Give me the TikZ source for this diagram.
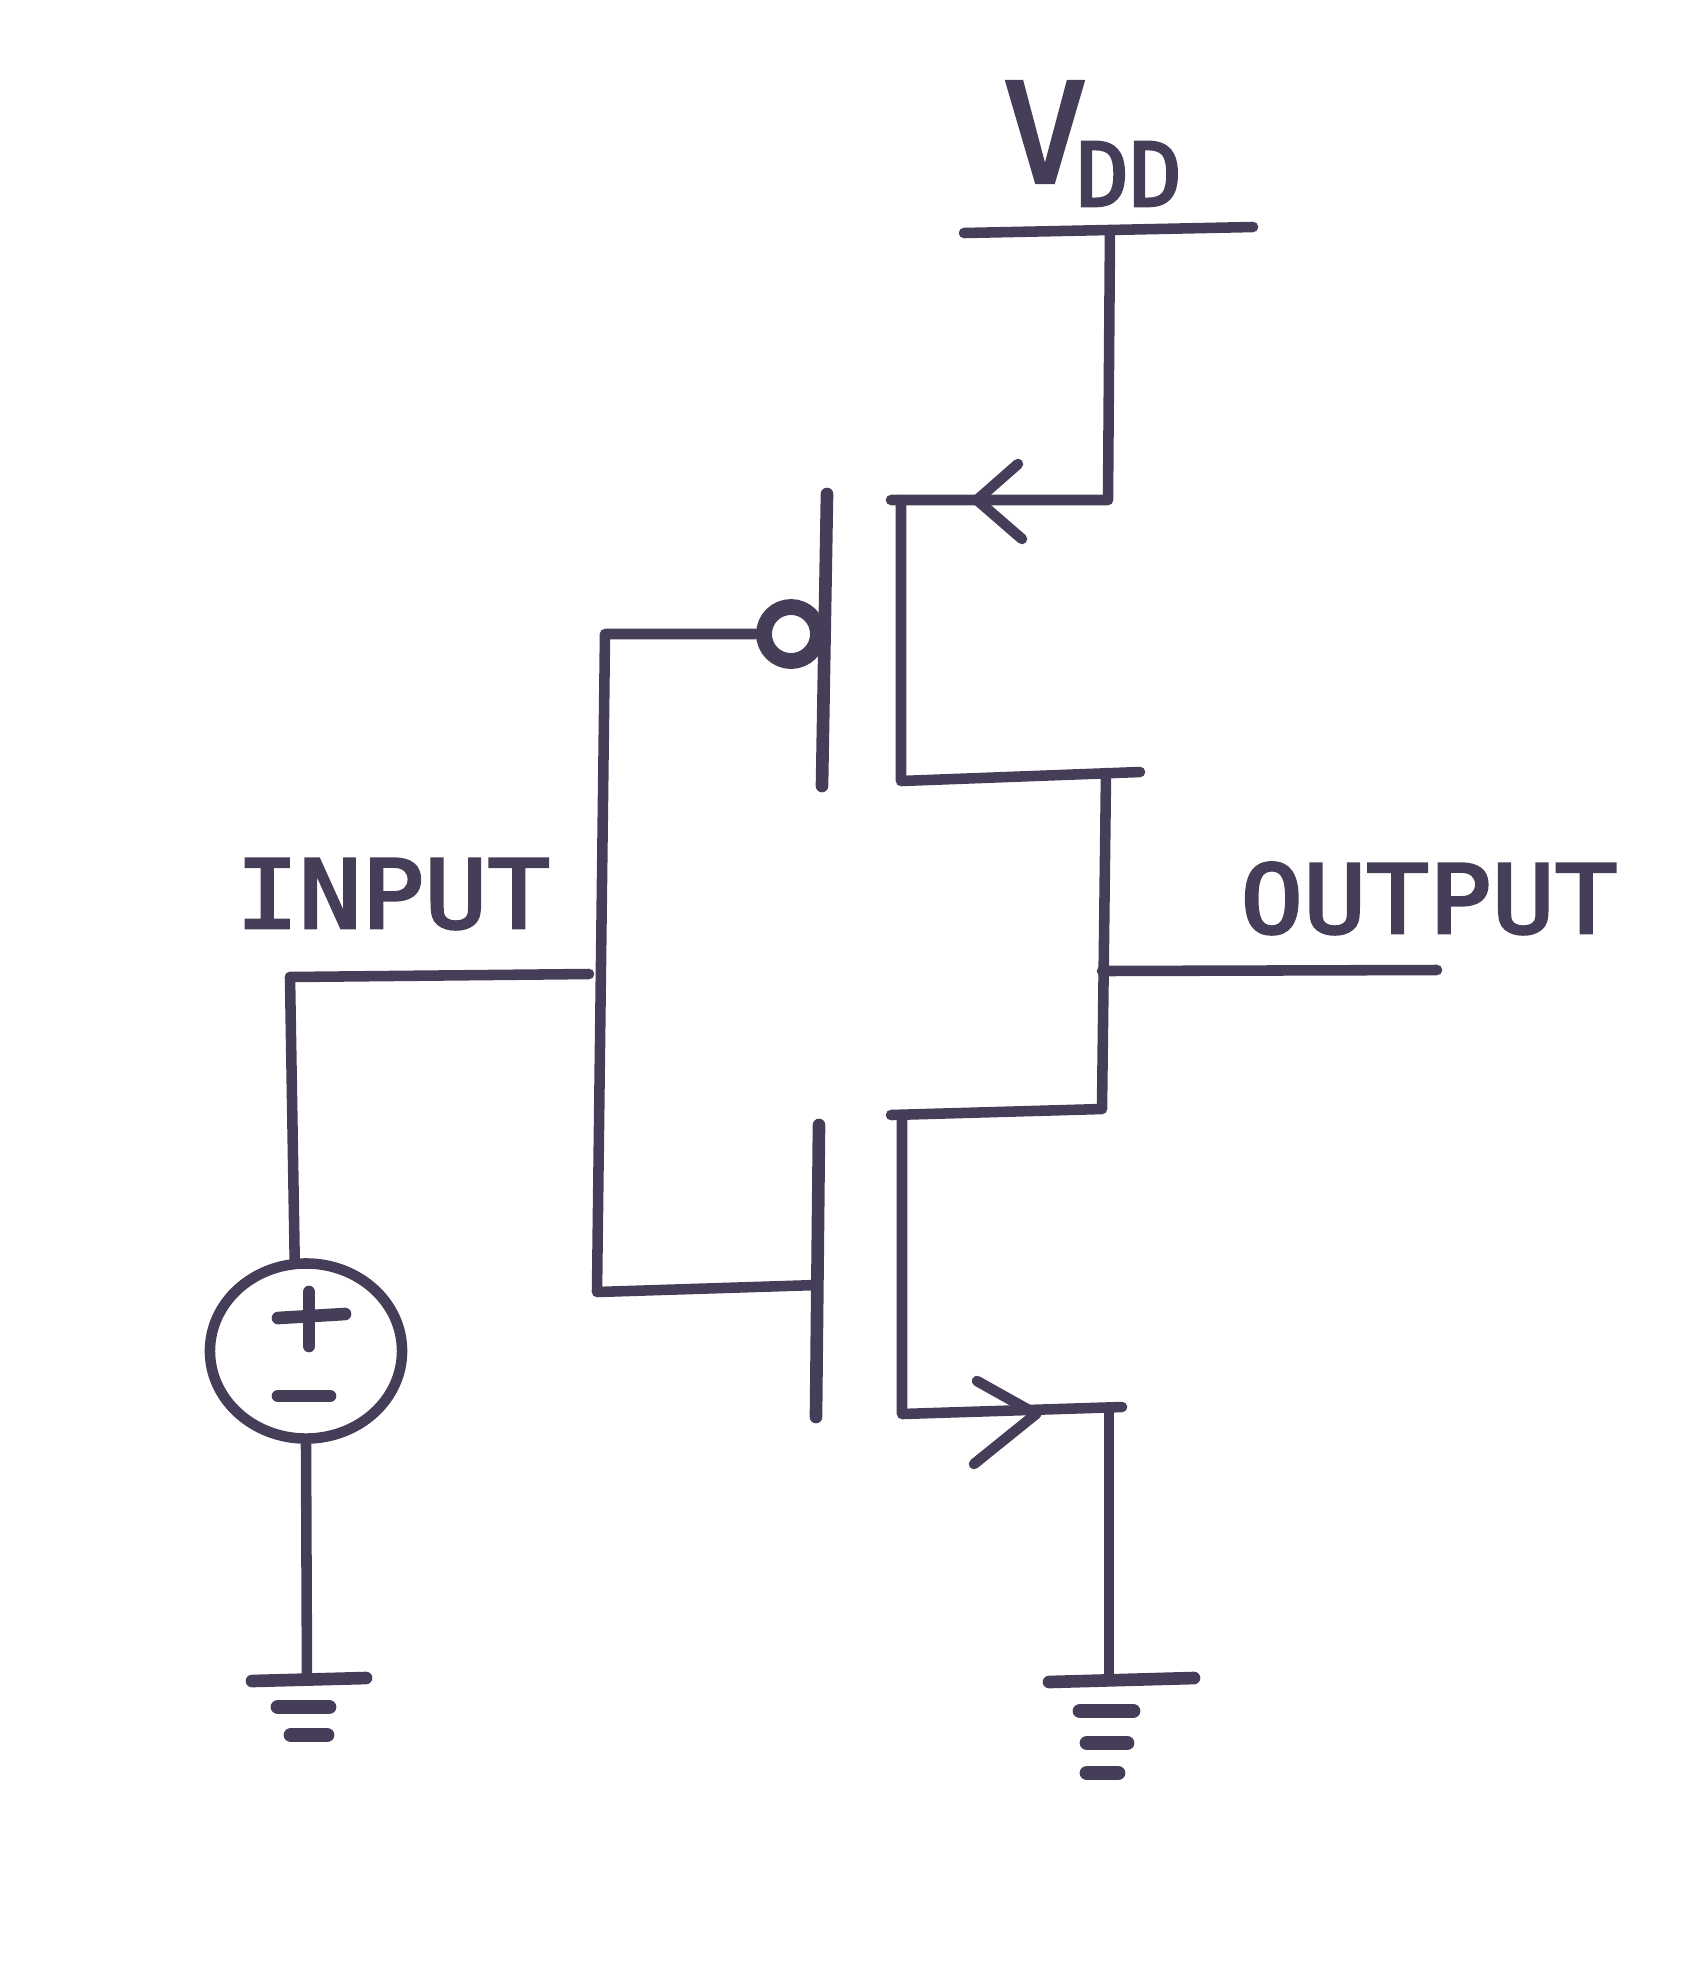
\documentclass[tikz,border=0pt]{standalone}
\usepackage{fontspec}
\newfontfamily\handfont[FakeStretch=1.1,FakeBold=3]{DejaVu Sans Mono}
\newfontfamily\vddfont[FakeBold=3]{DejaVu Sans Mono}
\usepackage{xcolor}
\usetikzlibrary{arrows,positioning,calc,shapes.geometric}
\definecolor{ink}{RGB}{70,62,88}
\tikzset{wire/.style={line width=3pt,ink,line cap=round,line join=round}}
\tikzset{thick wire/.style={wire,line width=3.6pt}}
\tikzset{handtext/.style={ink,inner sep=0pt,anchor=base,font=\fontsize{27}{30}\selectfont\handfont}}
\begin{document}
\begin{tikzpicture}[x=0.01cm,y=-0.01cm]
            \useasboundingbox (0,0) rectangle (1700,1975);
            % supply and ground rails
            \coordinate (vddl) at (964,233);
            \coordinate (vddr) at (1253,227);
            \coordinate (vddt) at (1110,230);
            \coordinate (srcp) at (1108,500);
            \coordinate (chpt) at (891,500);
            \coordinate (chpb) at (901,781);
            \coordinate (drnp) at (1140,772);
            \coordinate (outt) at (1106,773);
            \coordinate (outm) at (1102,971);
            \coordinate (outb) at (1102,1109);
            \coordinate (outr) at (1437,970);
            \coordinate (chnt) at (891,1115);
            \coordinate (chnb) at (902,1414);
            \coordinate (srcn) at (1122,1407);
            \coordinate (gndt) at (1109,1408);
            \coordinate (gndm) at (1109,1680);
            \coordinate (gndl) at (1049,1682);
            \coordinate (gndr) at (1194,1678);
            \coordinate (inl) at (290,977);
            \coordinate (inr) at (589,974);
            \coordinate (bust) at (605,632);
            \coordinate (busb) at (597,1292);
            \coordinate (gpt) at (827,494);
            \coordinate (gpb) at (822,786);
            \coordinate (gnt) at (819,1125);
            \coordinate (gnb) at (816,1417);
            \coordinate (gnm) at (817,1285);
            \coordinate (sgl) at (252,1681);
            \coordinate (sgr) at (366,1678);
            \coordinate (sgm) at (307,1680);
            \node [ink,draw,circle,line width=4.5pt,inner sep=0pt,minimum size=0.54cm] (bub) at (791,634) {};
            \node [ink,draw,ellipse,line width=3pt,inner sep=0pt,minimum width=1.92cm,minimum height=1.75cm] (vin) at (306,1351) {};
            \draw [wire] (vddl) -- (vddr);
            \draw [wire] (vddt) -- (srcp) -- (chpt);
            \draw [wire] (chpt -| chpb) -- (chpb) -- (drnp);
            \draw [wire] (outt) -- (outb) -- (chnt);
            \draw [wire] (outm) -- (outr);
            \draw [wire] (chnt -| chnb) -- (chnb) -- (srcn);
            \draw [wire] (gndt) -- (gndm);
            \draw [thick wire] (gndl) -- (gndr);
            % gates
            \draw [wire] (bub.west) -- (bub.west -| bust) -- (busb) -- (gnm);
            \draw [wire] (inl) -- (inr);
            \draw [wire] (inl) -- (vin.97);
            \draw [wire] (vin.south) -- (sgm);
            \draw [thick wire] (gpt) -- (gpb);
            \draw [thick wire] (gnt) -- (gnb);
            \draw [thick wire] (sgl) -- (sgr);
            % arrows on the sources
            \coordinate (tipp) at (977,500);
            \coordinate (tipn) at (1036,1414);
            \draw [wire] (1018,464) -- (tipp) -- (1022,539);
            \draw [wire] (977,1381) -- (tipn) -- (974,1464);
            % ground bars and source signs
            \foreach \xa/\xb/\ya [count=\i] in {1080/1133/1711,1087/1127/1743,1087/1118/1773}
              \draw [thick wire,line width=4.2pt] (\xa,\ya) -- (\xb,\ya) coordinate (barr\i);
            \foreach \xa/\xb/\ya [count=\i] in {278/329/1707,291/327/1735}
              \draw [thick wire,line width=4.2pt] (\xa,\ya) -- (\xb,\ya) coordinate (barl\i);
            \draw [thick wire] (278,1318) -- (345,1314);
            \draw [thick wire] (309,1292) -- (309,1346);
            \draw [thick wire] (278,1396) -- (330,1396);
            % labels
            \node [handtext] (input) at (393,928) {INPUT};
            \node [handtext] (output) at (1429,933) {OUTPUT};
            \node [handtext,anchor=base west,font=\fontsize{39}{40}\selectfont\vddfont] (vdd) at (1003,182) {V\hspace{-0.1cm}\raisebox{-0.24cm}{\fontsize{25}{26}\selectfont DD}};
         \end{tikzpicture}
\end{document}
